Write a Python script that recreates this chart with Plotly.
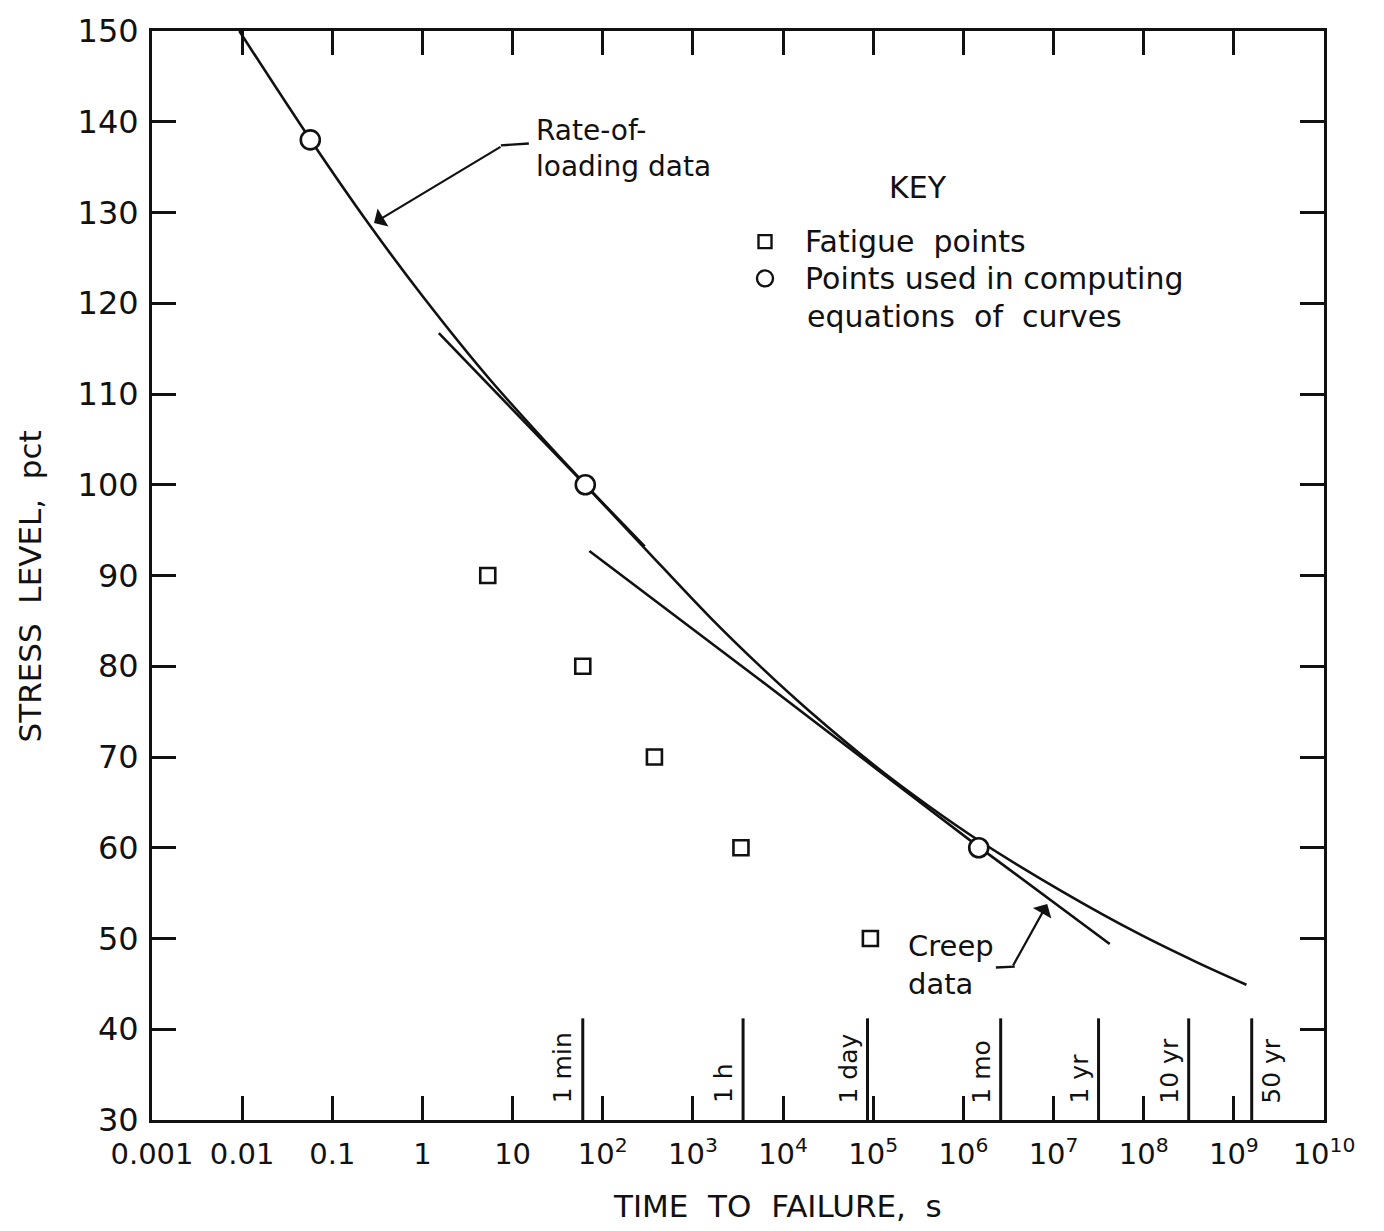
import numpy as np
import plotly.graph_objects as go

# ---------------- data ----------------
# Rate-of-loading curve: time to failure (s) and stress level (pct)
curve_time = [0.0093, 0.0575, 0.26, 1.0, 5.6, 64, 292, 1580, 5700, 20400,
              115000, 411000, 1.48e6, 1.24e7, 8.9e7, 3.85e8, 1.38e9]
curve_stress = [150, 138.0, 128.6, 120.8, 111.6, 100, 93.0, 85.3, 79.9, 74.9,
                68.7, 64.6, 60.8, 55.2, 50.5, 47.4, 44.9]

# Creep data line
creep_time = [71, 5700, 115000, 1.48e6, 4.2e7]
creep_stress = [92.7, 78.4, 68.5, 60.1, 49.4]

# Short tangent line near the 100 pct point
tangent_time = [1.52, 292]
tangent_stress = [116.7, 93.2]

# Points used in computing equations of curves (circles)
circle_time = [0.057, 64, 1.48e6]
circle_stress = [138, 100, 60]

# Fatigue points (squares)
fatigue_time = [5.3, 60, 374, 3410, 93000]
fatigue_stress = [90, 80, 70, 60, 50]

# Time reference markers
marker_labels = ["1 min", "1 h", "1 day", "1 mo", "1 yr", "10 yr", "50 yr"]
marker_time = [60, 3600, 86400, 2.592e6, 3.156e7, 3.156e8, 1.578e9]
marker_label_side = ["left", "left", "left", "left", "left", "left", "right"]
marker_top = 41.2

# Axis ticks
x_tickvals = [10.0 ** k for k in range(-3, 11)]
x_ticktext = ["0.001", "0.01", "0.1", "1", "10"] + \
             ["10<sup>%d</sup>" % k for k in range(2, 11)]
y_tickvals = list(range(30, 151, 10))

# ---------------- layout geometry ----------------
W, H = 1384, 1231
L, R, T, B = 152, 60, 24, 111
PW, PH = W - L - R, H - T - B


def px(xp):
    return (xp - L) / PW


def py(yp):
    return (H - B - yp) / PH


FONT = "DejaVu Sans"
INK = "#111111"

fig = go.Figure()

# main curve
fig.add_trace(go.Scatter(x=curve_time, y=curve_stress, mode="lines",
                         line=dict(color=INK, width=2.6, shape="spline", smoothing=1.0),
                         hoverinfo="skip", showlegend=False))
# creep line
fig.add_trace(go.Scatter(x=creep_time, y=creep_stress, mode="lines",
                         line=dict(color=INK, width=2.6, shape="spline", smoothing=0.8),
                         hoverinfo="skip", showlegend=False))
# tangent line
fig.add_trace(go.Scatter(x=tangent_time, y=tangent_stress, mode="lines",
                         line=dict(color=INK, width=2.6),
                         hoverinfo="skip", showlegend=False))

# time marker vertical lines
mx, my = [], []
for t in marker_time:
    mx += [t, t, None]
    my += [30, marker_top, None]
fig.add_trace(go.Scatter(x=mx, y=my, mode="lines",
                         line=dict(color=INK, width=3),
                         hoverinfo="skip", showlegend=False))

# leader tails of the call-out arrows
fig.add_trace(go.Scatter(x=[10 ** 0.87, 10 ** 1.18], y=[137.4, 137.6], mode="lines",
                         line=dict(color=INK, width=2.4),
                         hoverinfo="skip", showlegend=False))
fig.add_trace(go.Scatter(x=[10 ** 6.36, 10 ** 6.57], y=[46.8, 46.9], mode="lines",
                         line=dict(color=INK, width=2.4),
                         hoverinfo="skip", showlegend=False))

# fatigue squares
fig.add_trace(go.Scatter(x=fatigue_time, y=fatigue_stress, mode="markers",
                         marker=dict(symbol="square", size=15, color="white",
                                     line=dict(color=INK, width=2.6)),
                         hoverinfo="skip", showlegend=False))
# circles
fig.add_trace(go.Scatter(x=circle_time, y=circle_stress, mode="markers",
                         marker=dict(symbol="circle", size=19, color="white",
                                     line=dict(color=INK, width=2.6)),
                         hoverinfo="skip", showlegend=False))

# key symbols on an overlay axis in plot-area units
fig.add_trace(go.Scatter(x=[px(765)], y=[py(236)], mode="markers", xaxis="x2", yaxis="y2",
                         marker=dict(symbol="square", size=13, color="white",
                                     line=dict(color=INK, width=2.4)),
                         hoverinfo="skip", showlegend=False))
fig.add_trace(go.Scatter(x=[px(765)], y=[py(273)], mode="markers", xaxis="x2", yaxis="y2",
                         marker=dict(symbol="circle", size=16, color="white",
                                     line=dict(color=INK, width=2.4)),
                         hoverinfo="skip", showlegend=False))

annotations = []
tf = dict(family=FONT, size=28, color=INK)
kf = dict(family=FONT, size=30, color=INK)

# time marker labels (rotated)
for lab, t, side in zip(marker_labels, marker_time, marker_label_side):
    annotations.append(dict(x=np.log10(t), y=31.6, xref="x", yref="y", text=lab,
                            textangle=-90,
                            xanchor="right" if side == "left" else "left",
                            yanchor="bottom",
                            xshift=-3 if side == "left" else 3, showarrow=False,
                            font=dict(family=FONT, size=25, color=INK)))

# call-outs
annotations.append(dict(x=np.log10(0.29), y=128.85, xref="x", yref="y",
                        ax=128, ay=-77, axref="pixel", ayref="pixel",
                        showarrow=True, arrowhead=1, arrowsize=1.6, arrowwidth=2.2,
                        arrowcolor=INK, text=""))
annotations.append(dict(x=px(534), y=py(142), xref="paper", yref="paper",
                        text="Rate-of-<br>loading data", align="left",
                        xanchor="left", yanchor="middle", showarrow=False, font=tf))
annotations.append(dict(x=6.93, y=53.8, xref="x", yref="y",
                        ax=-35, ay=63, axref="pixel", ayref="pixel",
                        showarrow=True, arrowhead=1, arrowsize=1.6, arrowwidth=2.2,
                        arrowcolor=INK, text=""))
annotations.append(dict(x=px(906), y=py(964), xref="paper", yref="paper",
                        text="Creep<br>data", align="left",
                        xanchor="left", yanchor="middle", showarrow=False,
                        font=dict(family=FONT, size=29, color=INK)))

# key text
annotations.append(dict(x=px(918), y=py(182), xref="paper", yref="paper", text="KEY",
                        xanchor="center", yanchor="middle", showarrow=False, font=kf))
annotations.append(dict(x=px(803), y=py(236), xref="paper", yref="paper",
                        text="Fatigue  points", xanchor="left", yanchor="middle",
                        showarrow=False, font=kf))
annotations.append(dict(x=px(803), y=py(273), xref="paper", yref="paper",
                        text="Points used in computing", xanchor="left", yanchor="middle",
                        showarrow=False, font=kf))
annotations.append(dict(x=px(805), y=py(311), xref="paper", yref="paper",
                        text="equations  of  curves", xanchor="left", yanchor="middle",
                        showarrow=False, font=kf))

# axis titles
annotations.append(dict(x=px(777), y=py(1207), xref="paper", yref="paper",
                        text="TIME  TO  FAILURE,  s", xanchor="center", yanchor="middle",
                        showarrow=False, font=dict(family=FONT, size=31, color=INK)))
annotations.append(dict(x=px(30), y=py(583), xref="paper", yref="paper",
                        text="STRESS  LEVEL,  pct", textangle=-90,
                        xanchor="center", yanchor="middle",
                        showarrow=False, font=dict(family=FONT, size=31, color=INK)))

axis_common = dict(showline=True, linewidth=3, linecolor=INK, mirror="ticks",
                   ticks="inside", ticklen=24, tickwidth=2.6, tickcolor=INK,
                   showgrid=False, zeroline=False)

fig.update_layout(
    width=W, height=H,
    margin=dict(l=L, r=R, t=T, b=B, pad=0),
    paper_bgcolor="white", plot_bgcolor="white",
    showlegend=False,
    font=dict(family=FONT, color=INK),
    xaxis=dict(type="log", range=[-3, 10], tickvals=x_tickvals, ticktext=x_ticktext,
               tickfont=dict(family=FONT, size=29, color=INK), ticklabelstandoff=6,
               **axis_common),
    yaxis=dict(range=[30, 150], tickvals=y_tickvals,
               tickfont=dict(family=FONT, size=32, color=INK), ticklabelstandoff=4,
               **axis_common),
    xaxis2=dict(overlaying="x", range=[0, 1], visible=False, fixedrange=True),
    yaxis2=dict(overlaying="y", range=[0, 1], visible=False, fixedrange=True),
    annotations=annotations,
)

fig.write_html("out.html")
